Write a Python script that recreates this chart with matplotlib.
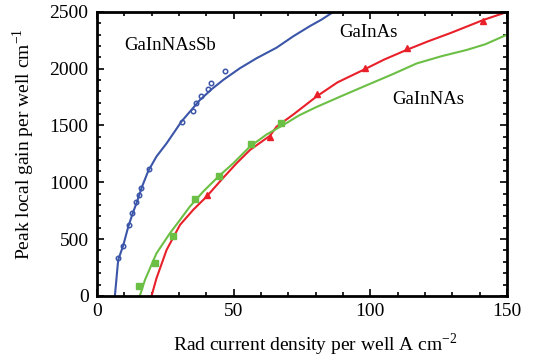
import matplotlib.pyplot as plt
from matplotlib.ticker import MultipleLocator

plt.rcParams['font.family'] = 'Liberation Serif'
plt.rcParams['mathtext.fontset'] = 'custom'
plt.rcParams['mathtext.rm'] = 'Liberation Serif'

# GaInNAsSb (blue)
sb_line_x = [6.6, 7.8, 9.6, 11.5, 13.3, 14.5, 16.5, 18.8, 21.8, 25.5, 31.0, 37.7, 42.0, 46.2, 52.3, 58.4, 65.7, 71.8, 77.9, 82.0, 86.5]
sb_line_y = [0, 317, 440, 610, 740, 816, 960, 1100, 1227, 1343, 1537, 1725, 1820, 1901, 2004, 2092, 2185, 2285, 2375, 2430, 2500]
sb_pts_x = [7.6, 9.6, 11.7, 12.7, 14.3, 15.5, 16.1, 19.1, 31.2, 35.2, 36.4, 38.0, 40.7, 41.7, 46.8]
sb_pts_y = [337, 443, 622, 728, 825, 889, 951, 1115, 1529, 1628, 1696, 1760, 1819, 1878, 1977]

# GaInAs (red)
as_line_x = [20.0, 21.8, 25.5, 30.4, 35.2, 40.1, 46.2, 51.1, 56.0, 63.3, 65.7, 72.0, 80.4, 88.0, 97.4, 105.0, 113.2, 121.0, 129.2, 141.4, 148.7, 150.0]
as_line_y = [0, 155, 405, 625, 757, 874, 1040, 1168, 1285, 1410, 1490, 1600, 1757, 1880, 1989, 2080, 2165, 2240, 2313, 2430, 2489, 2500]
as_pts_x = [40.1, 63.3, 80.4, 98.0, 113.2, 141.0]
as_pts_y = [889, 1403, 1780, 2010, 2180, 2420]

# GaInNAs (green)
nas_line_x = [15.7, 17.6, 21.8, 26.7, 30.4, 34.0, 38.9, 44.4, 49.9, 56.0, 62.0, 68.2, 74.0, 80.4, 90.0, 98.7, 108.0, 116.9, 126.0, 135.2, 142.0, 150.0]
nas_line_y = [0, 141, 375, 551, 669, 786, 919, 1050, 1168, 1315, 1420, 1505, 1590, 1664, 1765, 1855, 1950, 2046, 2110, 2165, 2215, 2300]
nas_pts_x = [15.4, 21.2, 27.7, 35.9, 44.6, 56.3, 67.3]
nas_pts_y = [91, 294, 528, 851, 1056, 1340, 1525]

blue = '#3b55a8'
red = '#e8202a'
green = '#6cbf45'

fig = plt.figure(figsize=(5.35, 3.6), dpi=100)
ax = fig.add_axes([0.181, 0.178, 0.767, 0.789])

ax.plot(sb_line_x, sb_line_y, color=blue, lw=1.5)
ax.plot(sb_pts_x, sb_pts_y, 'o', mfc='none', mec=blue, mew=1.1, ms=3.2)
ax.plot(as_line_x, as_line_y, color=red, lw=1.5)
ax.plot(as_pts_x, as_pts_y, '^', color=red, ms=5)
ax.plot(nas_line_x, nas_line_y, color=green, lw=1.5)
ax.plot(nas_pts_x, nas_pts_y, 's', color=green, ms=4)

ax.text(26.7, 2200, 'GaInNAsSb', fontsize=13.5, ha='center', va='center')
ax.text(99.2, 2315, 'GaInAs', fontsize=13.5, ha='center', va='center')
ax.text(121, 1725, 'GaInNAs', fontsize=13.5, ha='center', va='center')

ax.set_xlim(0, 150)
ax.set_ylim(0, 2500)
ax.xaxis.set_major_locator(MultipleLocator(50))
ax.xaxis.set_minor_locator(MultipleLocator(10))
ax.yaxis.set_major_locator(MultipleLocator(500))
ax.yaxis.set_minor_locator(MultipleLocator(100))
ax.tick_params(which='both', direction='in', top=True, right=True, labelsize=14, width=1.2)
ax.tick_params(axis='y', pad=6)
ax.tick_params(axis='x', pad=5)
ax.tick_params(which='major', length=5)
ax.tick_params(which='minor', length=3)
for s in ax.spines.values():
    s.set_linewidth(2)

ax.set_xlabel('Rad current density per well A cm$^{-2}$', fontsize=14)
ax.set_ylabel('Peak local gain per well cm$^{-1}$', fontsize=14)
ax.xaxis.set_label_coords(0.532, -0.125)
ax.yaxis.set_label_coords(-0.145, 0.536)

plt.savefig('out.png')
